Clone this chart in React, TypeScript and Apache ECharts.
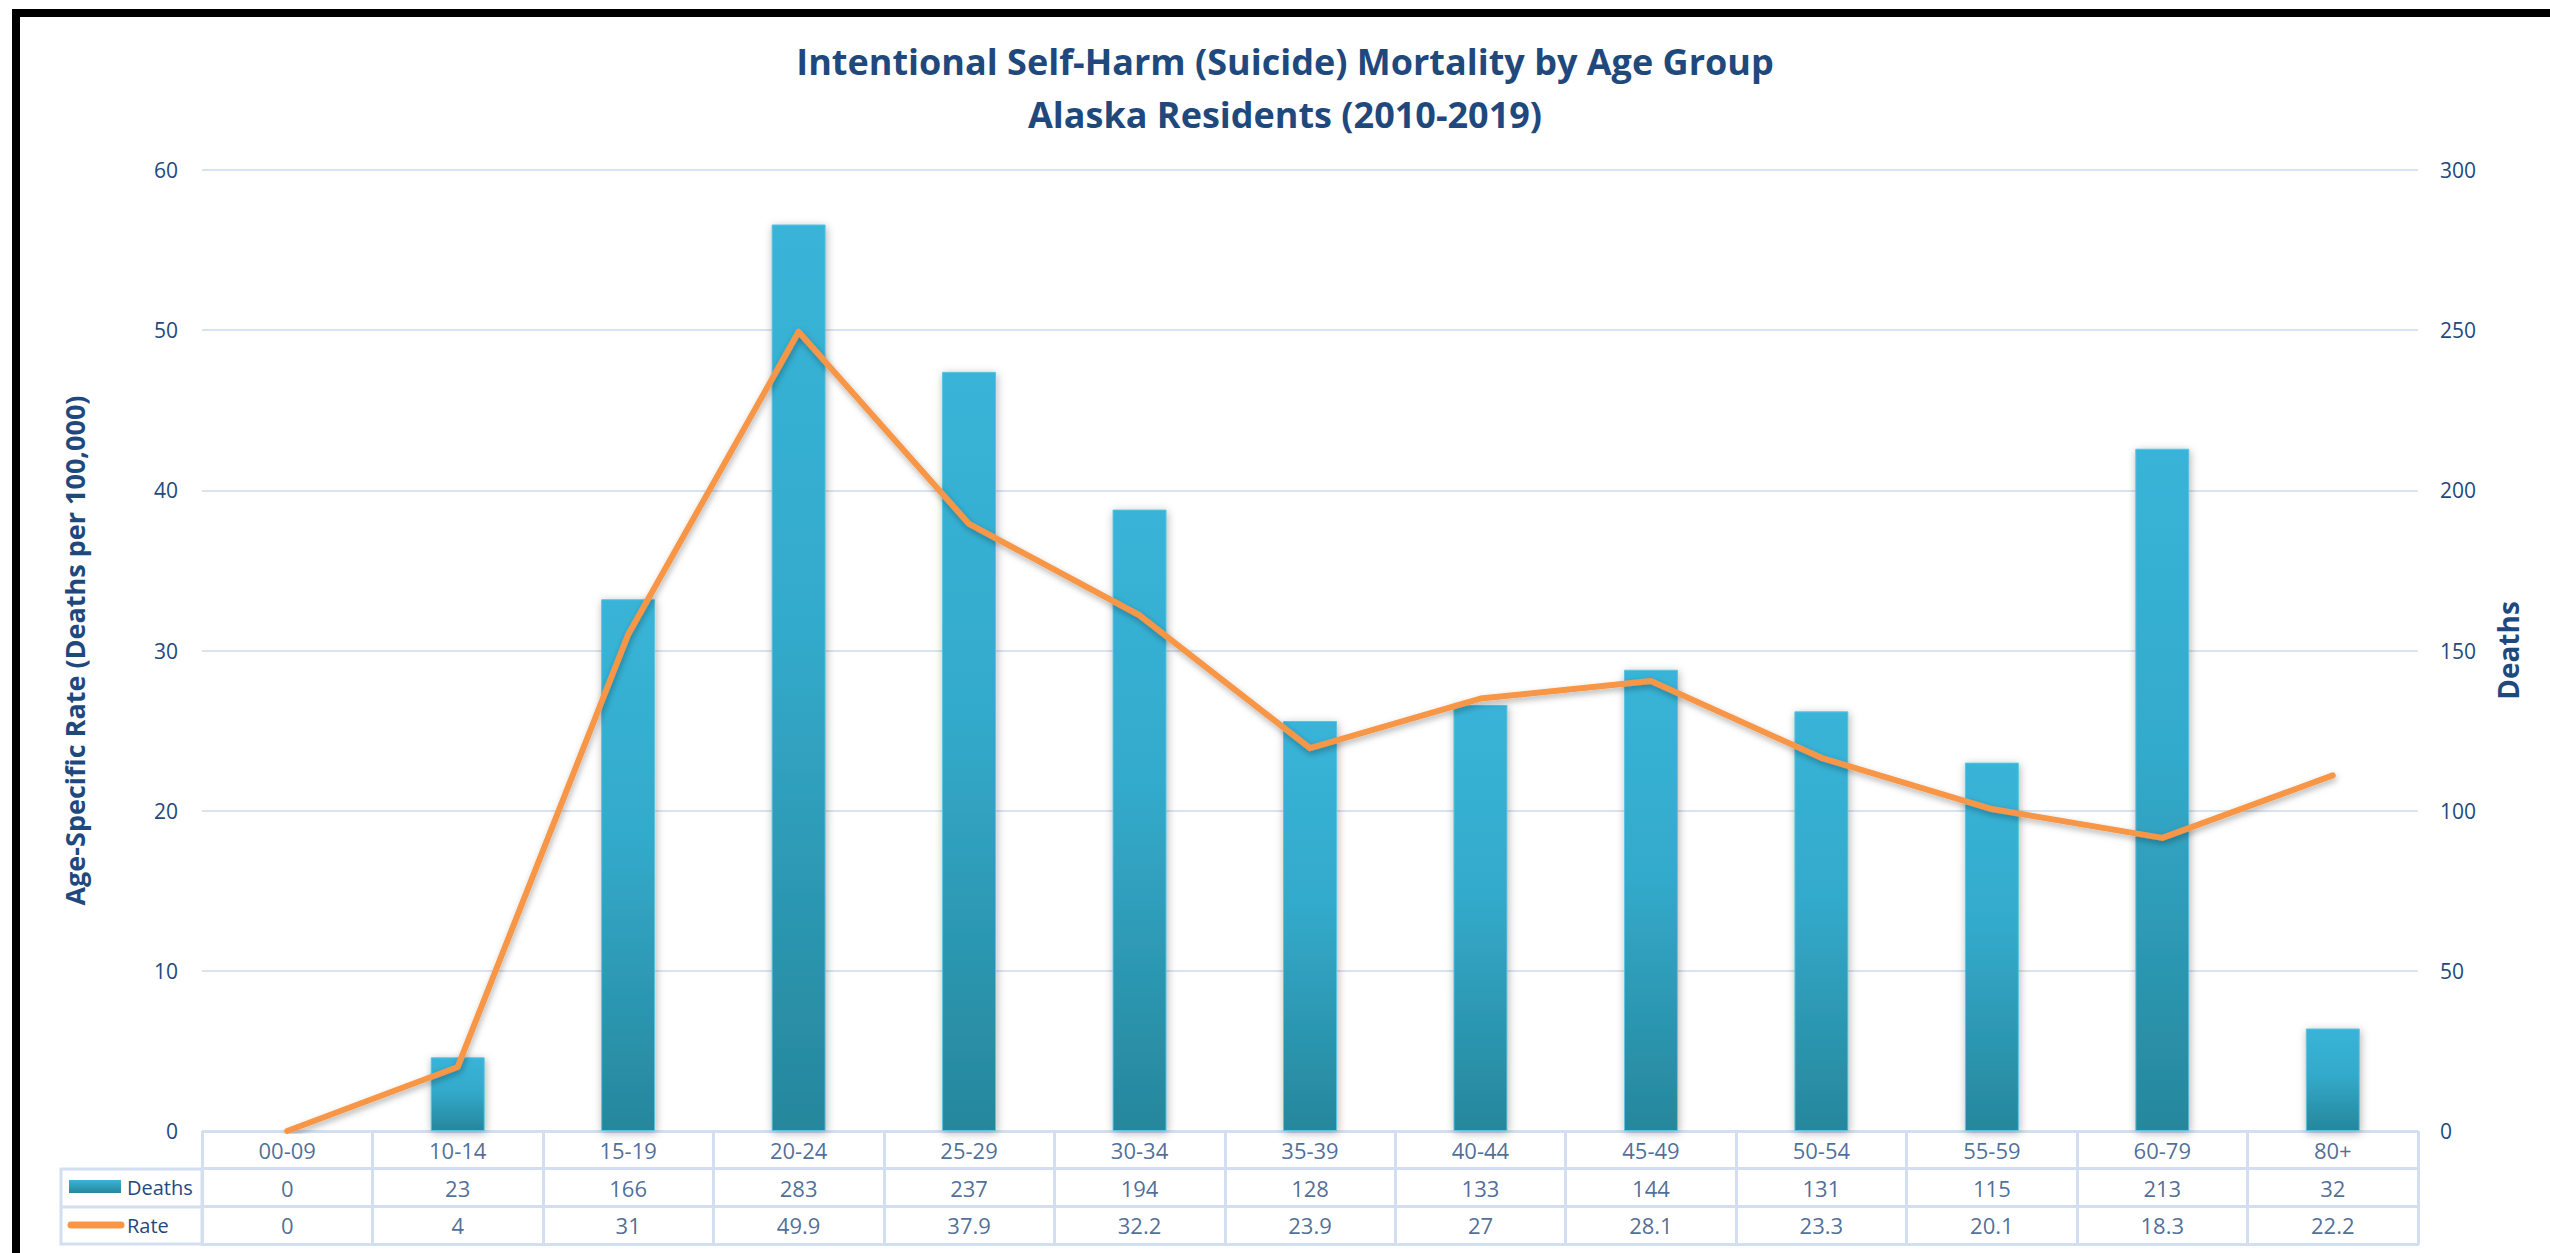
import React, { useEffect, useRef } from 'react';
import * as echarts from 'echarts';

const categories = ['00-09', '10-14', '15-19', '20-24', '25-29', '30-34', '35-39', '40-44', '45-49', '50-54', '55-59', '60-79', '80+'];
const deaths = [0, 23, 166, 283, 237, 194, 128, 133, 144, 131, 115, 213, 32];
const rates = [0, 4, 31, 49.9, 37.9, 32.2, 23.9, 27, 28.1, 23.3, 20.1, 18.3, 22.2];
const tableRows = ['', 'Deaths', 'Rate'];
const rateAxis = { min: 0, max: 60, interval: 10 };
const deathAxis = { min: 0, max: 300, interval: 50 };

const titleLines = ['Intentional Self-Harm (Suicide) Mortality by Age Group', 'Alaska Residents (2010-2019)'];
const rateName = 'Age-Specific Rate (Deaths per 100,000)';
const deathName = 'Deaths';

const NAVY = '#1F497D';
const GRID_LINE = '#D9E4F2';
const TABLE_LINE = '#D3DFF0';
const ORANGE = '#F79646';
const NARROW = '"Liberation Sans Narrow", "Open Sans", sans-serif';
const WIDE = '"Open Sans", "DejaVu Sans", sans-serif';

export default function App() {
  const ref = useRef<HTMLDivElement>(null);
  useEffect(() => {
    if (!ref.current) return;
    const chart = echarts.init(ref.current, undefined, { renderer: 'svg' });
    const tableData: any[] = [];
    categories.forEach((c, i) => {
      tableData.push([i, 0, c]);
      tableData.push([i, 1, String(deaths[i])]);
      tableData.push([i, 2, String(rates[i])]);
    });
    const barGradient = new echarts.graphic.LinearGradient(0, 0, 0, 1, [
      { offset: 0, color: '#38B4D8' },
      { offset: 0.45, color: '#33AACB' },
      { offset: 1, color: '#26879C' },
    ]);
    chart.setOption({
      animation: false,
      backgroundColor: '#ffffff',
      title: {
        text: titleLines.join('\n'),
        left: 1280,
        top: 30,
        textAlign: 'center',
        textStyle: {
          color: NAVY,
          fontSize: 36,
          fontWeight: 'bold',
          lineHeight: 53,
          fontFamily: NARROW,
        },
      },
      grid: [
        { left: 202, right: 132, top: 170, bottom: 122, containLabel: false },
        { left: 202, right: 132, top: 1131, bottom: 9, containLabel: false },
      ],
      xAxis: [
        {
          type: 'category',
          gridIndex: 0,
          data: categories,
          boundaryGap: true,
          axisLine: { show: false },
          axisTick: { show: false },
          axisLabel: { show: false },
          splitLine: { show: false },
        },
        {
          type: 'category',
          gridIndex: 1,
          data: categories,
          boundaryGap: true,
          axisLine: { show: true, lineStyle: { color: TABLE_LINE, width: 3 } },
          axisTick: { show: false },
          axisLabel: { show: false },
          splitLine: { show: true, lineStyle: { color: TABLE_LINE, width: 3 } },
        },
      ],
      yAxis: [
        {
          type: 'value',
          gridIndex: 0,
          position: 'left',
          min: rateAxis.min,
          max: rateAxis.max,
          interval: rateAxis.interval,
          name: rateName,
          nameLocation: 'middle',
          nameRotate: 90,
          nameGap: 114,
          nameTextStyle: { color: NAVY, fontSize: 27, fontWeight: 'bold', fontFamily: NARROW },
          axisLine: { show: false },
          axisTick: { show: false },
          axisLabel: { color: NAVY, fontSize: 21, margin: 24, fontFamily: WIDE },
          splitLine: { show: true, lineStyle: { color: GRID_LINE, width: 2 } },
        },
        {
          type: 'value',
          gridIndex: 0,
          position: 'right',
          min: deathAxis.min,
          max: deathAxis.max,
          interval: deathAxis.interval,
          name: deathName,
          nameLocation: 'middle',
          nameRotate: 90,
          nameGap: 76,
          nameTextStyle: { color: NAVY, fontSize: 28, fontWeight: 'bold', fontFamily: NARROW },
          axisLine: { show: false },
          axisTick: { show: false },
          axisLabel: { color: NAVY, fontSize: 21, margin: 22, fontFamily: WIDE },
          splitLine: { show: false },
        },
        {
          type: 'category',
          gridIndex: 1,
          data: tableRows,
          inverse: true,
          axisLine: { show: false },
          axisTick: { show: false },
          axisLabel: {
            show: true,
            align: 'left',
            margin: 75,
            color: NAVY,
            fontSize: 20,
            fontFamily: NARROW,
          },
          splitLine: { show: true, lineStyle: { color: TABLE_LINE, width: 3 } },
        },
      ],
      series: [
        {
          name: 'Deaths',
          type: 'bar',
          xAxisIndex: 0,
          yAxisIndex: 1,
          data: deaths,
          barWidth: 54,
          itemStyle: {
            color: barGradient,
            borderColor: '#5CC3E0',
            borderWidth: 1,
            shadowBlur: 8,
            shadowColor: 'rgba(0,0,0,0.3)',
            shadowOffsetX: 1,
            shadowOffsetY: 2,
          },
          z: 2,
        },
        {
          name: 'Rate',
          type: 'line',
          xAxisIndex: 0,
          yAxisIndex: 0,
          data: rates,
          symbol: 'none',
          lineStyle: {
            color: ORANGE,
            width: 6,
            cap: 'round',
            join: 'round',
            shadowBlur: 6,
            shadowColor: 'rgba(0,0,0,0.3)',
            shadowOffsetX: 1,
            shadowOffsetY: 3,
          },
          itemStyle: { color: ORANGE },
          z: 3,
        },
        {
          name: 'table',
          type: 'scatter',
          xAxisIndex: 1,
          yAxisIndex: 2,
          data: tableData,
          symbolSize: 0,
          silent: true,
          label: {
            show: true,
            position: 'inside',
            formatter: (p: any) => p.value[2],
            color: NAVY,
            fontSize: 22,
            fontFamily: NARROW,
          },
        },
      ],
      graphic: [
        { type: 'line', shape: { x1: 12, y1: 13, x2: 2550, y2: 13 }, style: { stroke: '#000', lineWidth: 8 } },
        { type: 'line', shape: { x1: 16, y1: 9, x2: 16, y2: 1253 }, style: { stroke: '#000', lineWidth: 8 } },
        { type: 'rect', shape: { x: 61, y: 1169, width: 141, height: 75 }, style: { fill: 'none', stroke: TABLE_LINE, lineWidth: 3 } },
        { type: 'line', shape: { x1: 61, y1: 1207, x2: 202, y2: 1207 }, style: { stroke: TABLE_LINE, lineWidth: 3 } },
        {
          type: 'rect',
          shape: { x: 69, y: 1180, width: 52, height: 13 },
          style: {
            fill: new echarts.graphic.LinearGradient(0, 0, 0, 1, [
              { offset: 0, color: '#38B4D8' },
              { offset: 1, color: '#26879C' },
            ]),
          },
        },
        { type: 'line', shape: { x1: 71, y1: 1225, x2: 121, y2: 1225 }, style: { stroke: ORANGE, lineWidth: 7, lineCap: 'round' } },
      ],
    });
    return () => chart.dispose();
  }, []);
  return (
    <div
      ref={ref}
      style={{ position: 'fixed', left: 0, top: 0, width: 2550, height: 1253, background: '#fff' }}
    />
  );
}
